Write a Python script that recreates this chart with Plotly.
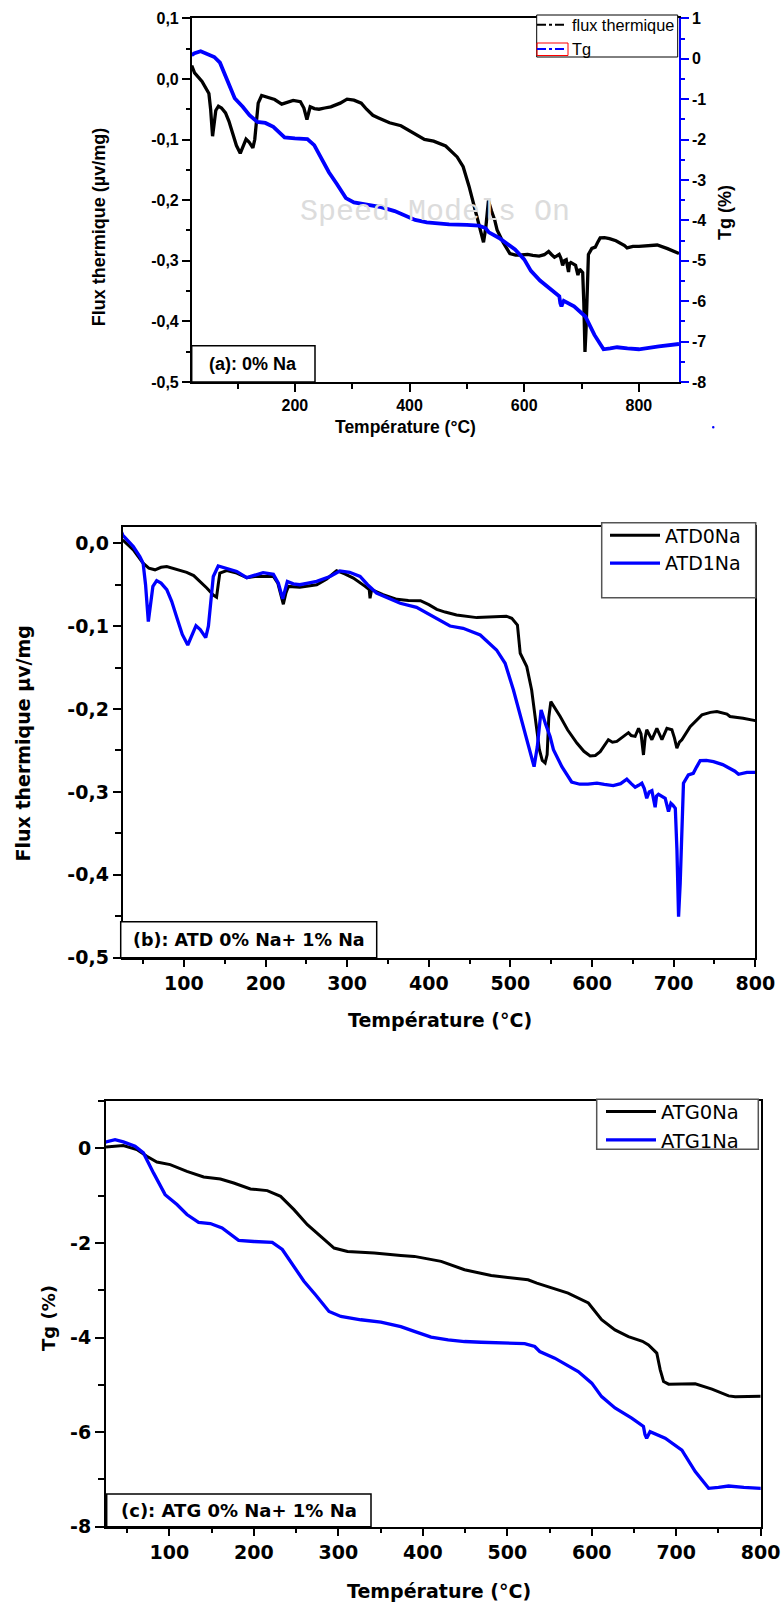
import plotly.graph_objects as go

W, H = 781, 1604

# ---------------- data ----------------
# ATD 1% Na (also the "flux thermique" curve of panel a)
temp_atd1 = [20, 25, 38, 46, 50, 53, 56.4, 59, 62, 66.6, 72, 79, 85, 91, 98, 104.7, 109, 114.8, 120, 126.7,
             130, 132, 136, 142, 152.5, 164.7, 177, 187, 197, 209.6, 215.7, 221, 226.7, 234, 242, 252, 262.7,
             279, 291, 303, 315.8, 325, 336, 345, 365, 385, 401.6, 426, 442, 463, 483, 493.5, 503.7, 516, 526,
             529, 533, 537.6, 543, 548.6, 552.7, 563, 575, 585, 595, 606, 615, 626, 635, 642.6, 648, 652.8, 657,
             661, 664, 667, 670, 673.3, 677.3, 679, 681.4, 686, 689.6, 693.7, 696.6, 699, 702, 704, 706, 708,
             709.2, 712, 718, 724, 728, 732.5, 740, 748.8, 760, 769, 775, 779.4, 789.7, 800, 832, 850, 870]
flux_atd1 = [0.022, 0.010, -0.004, -0.016, -0.024, -0.05, -0.0945, -0.075, -0.052, -0.045, -0.048, -0.056, -0.07,
             -0.0885, -0.110, -0.1227, -0.113, -0.0994, -0.104, -0.1138, -0.100, -0.080, -0.040, -0.0274, -0.030,
             -0.034, -0.0415, -0.038, -0.0354, -0.0375, -0.048, -0.067, -0.046, -0.049, -0.050, -0.048, -0.046,
             -0.040, -0.0334, -0.035, -0.040, -0.050, -0.060, -0.064, -0.0724, -0.0773, -0.0865, -0.0998, -0.1026,
             -0.1106, -0.1287, -0.1448, -0.177, -0.2212, -0.257, -0.2695, -0.245, -0.201, -0.218, -0.233, -0.249,
             -0.2695, -0.288, -0.2907, -0.2905, -0.2895, -0.291, -0.2924, -0.290, -0.2847, -0.290, -0.2943, -0.292,
             -0.2895, -0.296, -0.3076, -0.300, -0.2984, -0.3185, -0.305, -0.3028, -0.305, -0.3076, -0.3237, -0.3137,
             -0.316, -0.3197, -0.37, -0.4504, -0.41, -0.37, -0.2895, -0.2795, -0.2775, -0.270, -0.2622, -0.262,
             -0.2634, -0.267, -0.2714, -0.275, -0.2787, -0.2763, -0.2763, -0.274, -0.280, -0.288]

# ATD 0% Na
temp_atd0 = [25, 38, 50, 57, 64.6, 72, 79, 91, 103.4, 112, 119.7, 128, 136, 140, 142, 144, 152.5, 164.7, 177, 187,
             197, 209.6, 215, 221.8, 225, 228, 242, 262.7, 275, 287, 297, 307.6, 322, 327, 328, 330, 344, 361, 375,
             389.8, 400, 409.8, 420, 434, 458.8, 475, 487.4, 495, 501.7, 508.6, 512, 520, 526, 531.5, 535.5, 539,
             542.5, 545, 547, 549.5, 561, 570, 581.4, 590, 597.7, 604, 610, 620, 625, 630.4, 638, 644.6, 648, 652.8,
             657, 660, 663, 665, 667, 673.3, 679.4, 685.6, 691.7, 697.8, 701, 703.9, 707, 710, 720.2, 734.6, 745,
             753, 765.3, 769, 785, 800]
flux_atd0 = [0.004, -0.008, -0.024, -0.030, -0.032, -0.029, -0.028, -0.0314, -0.035, -0.039, -0.046, -0.054, -0.0624,
             -0.065, -0.050, -0.036, -0.033, -0.036, -0.0415, -0.040, -0.040, -0.040, -0.048, -0.0736, -0.060, -0.052,
             -0.053, -0.050, -0.043, -0.033, -0.037, -0.042, -0.052, -0.056, -0.0664, -0.056, -0.062, -0.0676, -0.069,
             -0.0692, -0.074, -0.0797, -0.083, -0.0865, -0.0897, -0.089, -0.0877, -0.088, -0.0905, -0.0986, -0.1327,
             -0.1488, -0.177, -0.217, -0.249, -0.262, -0.265, -0.255, -0.21, -0.191, -0.209, -0.225, -0.241, -0.251,
             -0.2566, -0.256, -0.2514, -0.237, -0.240, -0.239, -0.233, -0.2285, -0.232, -0.233, -0.2232, -0.230,
             -0.2554, -0.235, -0.225, -0.237, -0.2232, -0.237, -0.2232, -0.225, -0.235, -0.2473, -0.240, -0.237,
             -0.2212, -0.207, -0.204, -0.203, -0.206, -0.209, -0.211, -0.214]

# ATG 1% Na (also the "Tg" curve of panel a)
temp_atg1 = [20, 25, 35.7, 45.5, 59.4, 69.3, 81.2, 95, 109, 120.8, 134.6, 148.5, 162.4, 182, 200, 221.8, 233.7,
             247.5, 259.3, 273.2, 289, 303, 326.7, 350.4, 374, 390, 409.8, 430, 449.4, 469, 500, 520.6, 532.5,
             538.4, 556.2, 584, 600, 611.7, 627.5, 647.3, 661.2, 663, 665, 667, 669, 686.9, 706.7, 722.5, 738.4,
             750, 762, 780, 800, 835, 870]
tg_atg1 = [0.09, 0.135, 0.184, 0.135, 0.042, -0.098, -0.52, -0.98, -1.19, -1.40, -1.566, -1.59, -1.685, -1.947,
           -1.97, -1.99, -2.14, -2.50, -2.81, -3.10, -3.45, -3.555, -3.625, -3.675, -3.77, -3.87, -3.99, -4.05,
           -4.085, -4.10, -4.11, -4.13, -4.19, -4.296, -4.436, -4.72, -4.965, -5.25, -5.49, -5.705, -5.88, -6.05,
           -6.13, -6.05, -5.99, -6.13, -6.38, -6.835, -7.19, -7.17, -7.14, -7.17, -7.19, -7.12, -7.06]

# ATG 0% Na
temp_atg0 = [25, 45.5, 61.5, 73.3, 85.2, 101, 120.8, 140.6, 160.4, 176.2, 196, 215.9, 231.7, 247.5, 263.4, 279,
             295, 310.9, 342.5, 374, 390, 421.7, 449.4, 481, 524.6, 535, 544.4, 572, 596, 611.7, 627.5, 643.4,
             660, 667.2, 677, 681, 685, 691, 722.5, 742.3, 762, 769.8, 800]
tg_atg0 = [0.03, 0.057, -0.028, -0.17, -0.29, -0.345, -0.487, -0.606, -0.648, -0.733, -0.86, -0.895, -1.016,
           -1.297, -1.615, -1.86, -2.108, -2.18, -2.214, -2.264, -2.285, -2.39, -2.567, -2.69, -2.78, -2.85,
           -2.906, -3.06, -3.27, -3.625, -3.84, -3.98, -4.08, -4.155, -4.33, -4.68, -4.93, -4.987, -4.98, -5.09,
           -5.234, -5.25, -5.24]

# tick labels
a_x_ticks = [200, 400, 600, 800]
a_y_ticks = [0.1, 0.0, -0.1, -0.2, -0.3, -0.4, -0.5]
a_y_labels = ["0,1", "0,0", "-0,1", "-0,2", "-0,3", "-0,4", "-0,5"]
a_y2_ticks = [1, 0, -1, -2, -3, -4, -5, -6, -7, -8]
a_y2_labels = ["1", "0", "-1", "-2", "-3", "-4", "-5", "-6", "-7", "-8"]
bc_x_ticks = [100, 200, 300, 400, 500, 600, 700, 800]
b_y_ticks = [0.0, -0.1, -0.2, -0.3, -0.4, -0.5]
b_y_labels = ["0,0", "-0,1", "-0,2", "-0,3", "-0,4", "-0,5"]
c_y_ticks = [0, -2, -4, -6, -8]
c_y_labels = ["0", "-2", "-4", "-6", "-8"]

# ---------------- helpers (layout positions in pixels) ----------------
def fx(x):
    return x / W

def fy(y):
    return 1 - y / H

ARIAL = "Liberation Sans, Arial, sans-serif"
DEJA = "DejaVu Sans, sans-serif"
BLUE = "#0000FF"
CLEAR = "rgba(255,255,255,0)"

fig = go.Figure()

# ---- panel (a)
fig.add_trace(go.Scatter(x=temp_atd1, y=flux_atd1, mode="lines", line=dict(color="black", width=3.3),
                         xaxis="x", yaxis="y", showlegend=False, name="flux thermique"))
fig.add_trace(go.Scatter(x=temp_atg1, y=tg_atg1, mode="lines", line=dict(color=BLUE, width=3.8),
                         xaxis="x", yaxis="y2", showlegend=False, name="Tg"))
fig.add_trace(go.Scatter(x=[None], y=[None], mode="lines", name="flux thermique",
                         line=dict(color="black", width=2, dash="dashdot"), xaxis="x", yaxis="y", legend="legend"))
fig.add_trace(go.Scatter(x=[None], y=[None], mode="lines", name="Tg",
                         line=dict(color=BLUE, width=2, dash="dashdot"), xaxis="x", yaxis="y2", legend="legend"))

# ---- panel (b)
fig.add_trace(go.Scatter(x=temp_atd0, y=flux_atd0, mode="lines", line=dict(color="black", width=3),
                         xaxis="x2", yaxis="y3", name="ATD0Na", legend="legend2"))
fig.add_trace(go.Scatter(x=temp_atd1, y=flux_atd1, mode="lines", line=dict(color=BLUE, width=3.3),
                         xaxis="x2", yaxis="y3", name="ATD1Na", legend="legend2"))

# ---- panel (c)
fig.add_trace(go.Scatter(x=temp_atg0, y=tg_atg0, mode="lines", line=dict(color="black", width=3),
                         xaxis="x3", yaxis="y4", name="ATG0Na", legend="legend3"))
fig.add_trace(go.Scatter(x=temp_atg1, y=tg_atg1, mode="lines", line=dict(color=BLUE, width=3.3),
                         xaxis="x3", yaxis="y4", name="ATG1Na", legend="legend3"))

a_dom_x = [fx(191.7), fx(679)]
a_dom_y = [fy(382), fy(18.3)]
b_dom_x = [fx(122.7), fx(755.3)]
b_dom_y = [fy(957.7), fy(526.7)]
c_dom_x = [fx(106), fx(760.7)]
c_dom_y = [fy(1526.7), fy(1101)]

tf_a = dict(family=ARIAL, size=16, color="black", weight="bold")
tf_bc = dict(family=DEJA, size=19, color="black", weight="bold")

common = dict(showgrid=False, zeroline=False, ticks="outside", tickcolor="black", linecolor="black",
              automargin=False)

fig.update_layout(
    width=W, height=H, margin=dict(l=0, r=0, t=0, b=0, autoexpand=False),
    paper_bgcolor="white", plot_bgcolor="white",
    xaxis=dict(domain=a_dom_x, anchor="y", range=[20, 870], tickmode="array", tickvals=a_x_ticks,
               ticklen=8, tickwidth=1.5, linewidth=1.5, mirror=True, tickfont=tf_a,
               minor=dict(tickmode="linear", tick0=0, dtick=100, ticks="outside", ticklen=5, tickcolor="black"),
               **common),
    xaxis4=dict(overlaying="x", anchor="y", side="top", range=[20, 870], tickmode="linear", tick0=0, dtick=100,
                ticks="inside", ticklen=6, tickcolor="black", showticklabels=False, showline=False,
                showgrid=False, zeroline=False, automargin=False),
    yaxis=dict(domain=a_dom_y, anchor="x", range=[-0.5, 0.1], tickmode="array", tickvals=a_y_ticks,
               ticktext=a_y_labels, ticklen=8, tickwidth=1.5, linewidth=1.5, tickfont=tf_a,
               minor=dict(tickmode="linear", tick0=0, dtick=0.05, ticks="outside", ticklen=4, tickcolor="black"),
               **common),
    yaxis2=dict(overlaying="y", anchor="x", side="right", range=[-8, 1], tickmode="array", tickvals=a_y2_ticks,
                ticktext=a_y2_labels, ticks="outside", ticklen=8, tickwidth=1.5, tickcolor=BLUE,
                linecolor=BLUE, linewidth=1.5, showline=True, showgrid=False, zeroline=False, tickfont=tf_a,
                automargin=False,
                minor=dict(tickmode="linear", tick0=0, dtick=0.5, ticks="outside", ticklen=4, tickcolor=BLUE)),
    xaxis2=dict(domain=b_dom_x, anchor="y3", range=[25, 800], tickmode="array", tickvals=bc_x_ticks,
                ticklen=7, tickwidth=2, linewidth=2, mirror=True, tickfont=tf_bc,
                minor=dict(tickmode="linear", tick0=0, dtick=50, ticks="outside", ticklen=4, tickcolor="black"),
                **common),
    yaxis3=dict(domain=b_dom_y, anchor="x2", range=[-0.5, 0.02], tickmode="array", tickvals=b_y_ticks,
                ticktext=b_y_labels, ticklen=8, tickwidth=2, linewidth=2, mirror=True, tickfont=tf_bc,
                minor=dict(tickmode="linear", tick0=0, dtick=0.05, ticks="outside", ticklen=6, tickcolor="black"),
                **common),
    xaxis3=dict(domain=c_dom_x, anchor="y4", range=[25, 800], tickmode="array", tickvals=bc_x_ticks,
                ticklen=7, tickwidth=2, linewidth=2, mirror=True, tickfont=tf_bc,
                minor=dict(tickmode="linear", tick0=0, dtick=50, ticks="outside", ticklen=4, tickcolor="black"),
                **common),
    yaxis4=dict(domain=c_dom_y, anchor="x3", range=[-8, 1], tickmode="array", tickvals=c_y_ticks,
                ticktext=c_y_labels, ticklen=9, tickwidth=2, linewidth=2, mirror=True, tickfont=tf_bc,
                minor=dict(tickmode="linear", tick0=0, dtick=1, ticks="outside", ticklen=6, tickcolor="black"),
                **common),
    legend=dict(x=fx(532), y=fy(7.6), xanchor="left", yanchor="top", bgcolor=CLEAR, borderwidth=0,
                font=dict(family=ARIAL, size=16.3, color="black"), tracegroupgap=0, itemwidth=30),
    legend2=dict(x=fx(605), y=fy(516.5), xanchor="left", yanchor="top", bgcolor=CLEAR, borderwidth=0,
                 font=dict(family=DEJA, size=19, color="black"), tracegroupgap=0, itemwidth=50),
    legend3=dict(x=fx(601), y=fy(1092.4), xanchor="left", yanchor="top", bgcolor=CLEAR, borderwidth=0,
                 font=dict(family=DEJA, size=19.5, color="black"), tracegroupgap=0, itemwidth=50),
)

shapes = []
annotations = []

def frame(x0, y0, x1, y1, color, width):
    shapes.append(dict(type="rect", xref="paper", yref="paper", x0=fx(x0), x1=fx(x1), y0=fy(y1), y1=fy(y0),
                       line=dict(color=color, width=width), fillcolor="white", layer="above"))

def box(x0, y0, x1, y1, text, font):
    frame(x0, y0, x1, y1, "black", 1.5)
    annotations.append(dict(xref="paper", yref="paper", x=fx((x0 + x1) / 2), y=fy((y0 + y1) / 2),
                            text=text, showarrow=False, font=font, xanchor="center", yanchor="middle"))

def title(x, y, text, font, angle=0):
    annotations.append(dict(xref="paper", yref="paper", x=fx(x), y=fy(y), text=text, showarrow=False,
                            font=font, textangle=angle, xanchor="center", yanchor="middle"))

# legend frames
frame(536.7, 15, 677.7, 57, "black", 1)
frame(601.7, 522.7, 755.7, 597.7, "#555555", 1.5)
frame(596.7, 1099.3, 758.3, 1149.3, "#555555", 1.5)
# red frame around the Tg legend sample
shapes.append(dict(type="rect", xref="paper", yref="paper", x0=fx(537), x1=fx(568), y0=fy(55.5), y1=fy(43),
                   line=dict(color="red", width=1), layer="above"))

# watermark
annotations.append(dict(xref="paper", yref="paper", x=fx(435.5), y=fy(212), text="Speed Models On",
                        showarrow=False, font=dict(family="Liberation Mono, Courier New, monospace", size=30,
                                                   color="#DCDCDC"), xanchor="center", yanchor="middle"))

box(191.7, 345.7, 315, 382, "(a): 0% Na", dict(family=ARIAL, size=18, color="black", weight="bold"))
box(120.7, 921.7, 376.7, 957.7, "(b): ATD 0% Na+ 1% Na", dict(family=DEJA, size=17.5, color="black", weight="bold"))
box(106.7, 1494, 371, 1526.7, "(c): ATG 0% Na+ 1% Na", dict(family=DEJA, size=18, color="black", weight="bold"))

title(405, 427, "Température (°C)", dict(family=ARIAL, size=17.5, color="black", weight="bold"))
title(98.7, 227.5, "Flux thermique (µv/mg)", dict(family=ARIAL, size=18, color="black", weight="bold"), -90)
title(725, 213, "Tg (%)", dict(family=ARIAL, size=18, color="black", weight="bold"), -90)

title(439.6, 1020, "Température (°C)", dict(family=DEJA, size=19, color="black", weight="bold"))
title(22.5, 744, "Flux thermique µv/mg", dict(family=DEJA, size=19, color="black", weight="bold"), -90)

title(439, 1591, "Température (°C)", dict(family=DEJA, size=19, color="black", weight="bold"))
title(48, 1318, "Tg (%)", dict(family=DEJA, size=18, color="black", weight="bold"), -90)

# stray blue dot
shapes.append(dict(type="circle", xref="paper", yref="paper", x0=fx(712), x1=fx(714.5), y0=fy(428.5), y1=fy(426),
                   line=dict(color=BLUE, width=0), fillcolor=BLUE))

fig.update_layout(shapes=shapes, annotations=annotations)

fig.write_html("out.html")
